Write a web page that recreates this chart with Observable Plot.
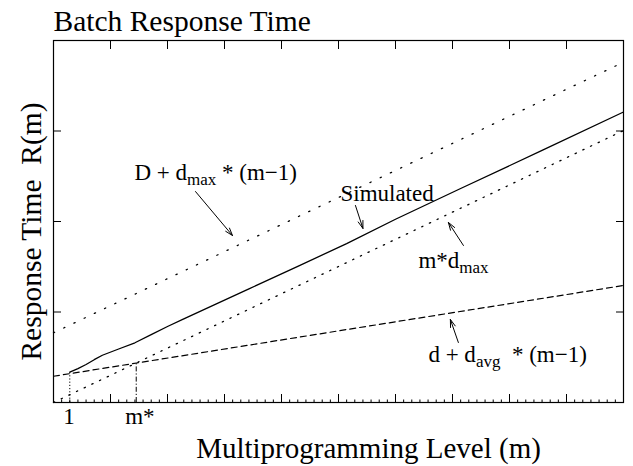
<!DOCTYPE html>
<html><head><meta charset="utf-8">
<script src="https://cdn.jsdelivr.net/npm/d3@7"></script>
<script src="https://cdn.jsdelivr.net/npm/@observablehq/plot@0.6"></script>
<style>html,body{margin:0;padding:0;background:#fff;} svg text{white-space:pre;}</style>
</head><body><div id="chart"></div>
<script>
// ---- text ----
const titleText = "Batch Response Time";
const xLabelText = "Multiprogramming Level (m)";
const yLabelText = "Response Time  R(m)";

// ---- ticks ----
const xMajorTicks = [0, 3.5, 7, 10.5, 14, 17.5, 21, 24.5, 28, 31.5, 35];
const xMinorTicks = d3.range(0, 35.001, 0.5);
const yMajorTicks = [0, 10, 20, 30, 40];
const xTickLabelPos = [0.95, 5.3];
const xTickLabelText = ["1", "m*"];

// ---- series ----
const simM = [1, 1.5, 2, 2.5, 3, 4, 5, 6, 7, 8, 10, 12, 15, 18, 21, 25, 30, 35];
const simR = [3.35, 3.75, 4.2, 4.73, 5.22, 5.91, 6.6, 7.5, 8.4, 9.25, 10.9, 12.55, 15.05, 17.55, 20.25, 23.65, 27.85, 32.1];
const upperM = [0, 35];
const upperR = [7.7, 37.6];      // D + dmax*(m-1)
const mdmaxM = [0, 35];
const mdmaxR = [0, 30.05];       // m*dmax
const lowerM = [0, 35];
const lowerR = [2.9, 12.93];     // d + davg*(m-1)
const guideM = [1, 5.08];        // m = 1 and m*
const guideR = [3.3, 4.36];

// ---- annotations ----
const annoText = ["D + d_{max} * (m\u22121)", "Simulated", "m*d_{max}", "d + d_{avg}\u00A0 * (m\u22121)"];
const annoM = [4.97, 17.62, 22.41, 23.02];
const annoR = [24.64, 22.32, 14.81, 4.42];
const arrowFromM = [8.72, 18.54, 25.17, 24.86];
const arrowFromR = [23.31, 21.77, 17.35, 6.63];
const arrowToM = [10.99, 19.0, 24.25, 24.37];
const arrowToR = [18.45, 19.23, 19.89, 9.17];

const pts = (ms, rs) => ms.map((m, i) => ({m, r: rs[i]}));
const serif = "'Liberation Serif', 'Times New Roman', serif";
const blank = () => "";

const chart = Plot.plot({
  width: 633, height: 466,
  marginLeft: 53, marginRight: 10, marginTop: 40, marginBottom: 64,
  style: {fontFamily: serif, background: "white", color: "black"},
  x: {domain: [0, 35]},
  y: {domain: [0, 40]},
  marks: [
    Plot.line(pts(upperM, upperR), {x: "m", y: "r", stroke: "black", strokeWidth: 1.3, strokeDasharray: "1.3,10"}),
    Plot.line(pts(mdmaxM, mdmaxR), {x: "m", y: "r", stroke: "black", strokeWidth: 1.3, strokeDasharray: "1.3,7.2"}),
    Plot.line(pts(lowerM, lowerR), {x: "m", y: "r", stroke: "black", strokeWidth: 1.2, strokeDasharray: "6,4"}),
    Plot.line(pts(simM, simR), {x: "m", y: "r", stroke: "black", strokeWidth: 1.3}),
    Plot.ruleX([0], {x: () => guideM[0], y1: 0, y2: () => guideR[0], stroke: "black", strokeWidth: 1, strokeDasharray: "1.2,2"}),
    Plot.ruleX([0], {x: () => guideM[1], y1: 0, y2: () => guideR[1], stroke: "black", strokeWidth: 1, strokeDasharray: "5,2,1.2,2"}),
    Plot.arrow(annoText, {
      x1: (d, i) => arrowFromM[i], y1: (d, i) => arrowFromR[i],
      x2: (d, i) => arrowToM[i], y2: (d, i) => arrowToR[i],
      stroke: "black", strokeWidth: 1, headLength: 12, headAngle: 36
    }),
    Plot.text(annoText, {
      x: (d, i) => annoM[i], y: (d, i) => annoR[i], text: d => d,
      textAnchor: "start", lineAnchor: "bottom", fontSize: 23, fill: "black"
    }),
    Plot.text(xTickLabelPos, {
      x: d => d, text: (d, i) => xTickLabelText[i], frameAnchor: "bottom",
      lineAnchor: "bottom", dy: 21, fontSize: 23, fill: "black"
    }),
    Plot.text([titleText], {frameAnchor: "top-left", textAnchor: "start", lineAnchor: "bottom", dy: -10, fontSize: 29.5, fill: "black"}),
    Plot.text([xLabelText], {frameAnchor: "bottom", lineAnchor: "bottom", dy: 55, dx: 30, fontSize: 29, fill: "black"}),
    Plot.text([yLabelText], {frameAnchor: "left", rotate: -90, dx: -22, dy: 10, textAnchor: "middle", fontSize: 29.5, fill: "black"}),
    Plot.axisX({anchor: "bottom", ticks: xMajorTicks, tickSize: -8, tickFormat: blank, label: null, stroke: "black"}),
    Plot.axisX({anchor: "bottom", ticks: xMinorTicks, tickSize: -2.5, tickFormat: blank, label: null, stroke: "black"}),
    Plot.axisX({anchor: "top", ticks: xMajorTicks, tickSize: -8, tickFormat: blank, label: null, stroke: "black"}),
    Plot.axisY({anchor: "left", ticks: yMajorTicks, tickSize: -8, tickFormat: blank, label: null, stroke: "black"}),
    Plot.axisY({anchor: "right", ticks: yMajorTicks, tickSize: -8, tickFormat: blank, label: null, stroke: "black"}),
    Plot.frame({stroke: "black", strokeWidth: 1.2})
  ]
});

// subscripts: "a_{sub}b" -> tspans
const NS = "http://www.w3.org/2000/svg";
chart.querySelectorAll("text").forEach(t => {
  const s = t.textContent;
  const m = s.match(/^(.*?)_\{(.*?)\}(.*)$/);
  if (!m) return;
  t.textContent = "";
  const a = document.createElementNS(NS, "tspan"); a.textContent = m[1];
  const b = document.createElementNS(NS, "tspan"); b.textContent = m[2];
  b.setAttribute("dy", "5"); b.setAttribute("font-size", "17");
  const c = document.createElementNS(NS, "tspan"); c.textContent = m[3];
  c.setAttribute("dy", "-5");
  t.append(a, b, c);
});

document.getElementById("chart").appendChild(chart);
</script>
</body></html>
